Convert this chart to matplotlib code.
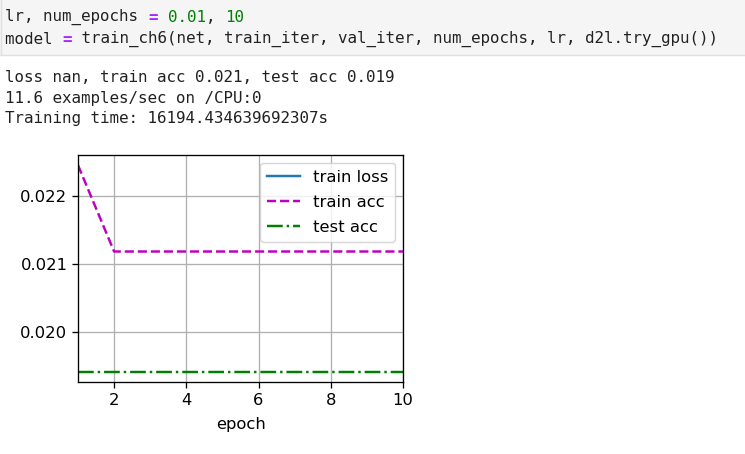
import numpy as np
import matplotlib
matplotlib.use("Agg")
import matplotlib.pyplot as plt
from matplotlib.patches import Rectangle

# values
epochs = [1, 2, 3, 4, 5, 6, 7, 8, 9, 10]
train_loss = [np.nan] * 10
train_acc = [0.02245, 0.02118, 0.02118, 0.02118, 0.02118, 0.02118, 0.02118, 0.02118, 0.02118, 0.02118]
test_acc = [0.01941] * 10
legend_labels = ["train loss", "train acc", "test acc"]

# notebook cell text: (segment, colour, bold)
code_lines = [
    [("lr, num_epochs ", "#212121", False), ("=", "#aa22ff", True), (" ", "#212121", False),
     ("0.01", "#008000", False), (", ", "#212121", False), ("10", "#008000", False)],
    [("model ", "#212121", False), ("=", "#aa22ff", True),
     (" train_ch6(net, train_iter, val_iter, num_epochs, lr, d2l.try_gpu())", "#212121", False)],
]
output_lines = [
    "loss nan, train acc 0.021, test acc 0.019",
    "11.6 examples/sec on /CPU:0",
    "Training time: 16194.434639692307s",
]

# the chart in the screenshot is drawn a bit bigger than 100 dpi
k = 1.18
plt.rcParams.update({
    "font.size": 10 * k,
    "lines.linewidth": 1.5 * k,
    "axes.linewidth": 0.8 * k,
    "grid.linewidth": 0.8 * k,
    "xtick.major.size": 3.5 * k,
    "ytick.major.size": 3.5 * k,
    "xtick.major.width": 0.8 * k,
    "ytick.major.width": 0.8 * k,
})

W, H, DPI = 745, 454, 100
fig = plt.figure(figsize=(W / DPI, H / DPI), dpi=DPI)

def px(x, y):
    return x / W, 1 - y / H

# code cell background
fig.patches.append(Rectangle(px(0, 55), 1.0, 55 / H, transform=fig.transFigure,
                             facecolor="#f5f5f5", edgecolor="none", zorder=0))
fig.add_artist(plt.Line2D([0, 1], [1 - 55 / H] * 2, transform=fig.transFigure,
                          color="#e0e0e0", lw=1))
fig.add_artist(plt.Line2D([0.5 / W] * 2, [1 - 55 / H, 1], transform=fig.transFigure,
                          color="#e0e0e0", lw=1))

mono = "DejaVu Sans Mono"
fsize = 11.45
char_w = 0.602 * fsize * DPI / 72

for row, segs in enumerate(code_lines):
    y = 17 + row * 22
    n = 0
    for s, c, b in segs:
        fig.text(*px(5 + n * char_w, y), s, family=mono, fontsize=fsize, color=c,
                 fontweight="bold" if b else "normal", va="center", ha="left")
        n += len(s)

for row, s in enumerate(output_lines):
    fig.text(*px(5, 77 + row * 21), s, family=mono, fontsize=fsize, color="#212121",
             va="center", ha="left")

# the plot itself
ax = fig.add_axes([78 / W, 1 - 382 / H, 325 / W, 227 / H])
ax.plot(epochs, train_loss, "-", label=legend_labels[0])
ax.plot(epochs, train_acc, "m--", label=legend_labels[1])
ax.plot(epochs, test_acc, "g-.", label=legend_labels[2])
ax.set_xlim(1, 10)
ax.set_ylim(0.01926, 0.02260)
ax.set_xticks([2, 4, 6, 8, 10])
ax.set_yticks([0.020, 0.021, 0.022])
ax.set_xlabel("epoch", labelpad=6.5)
ax.grid(True)
ax.legend(loc="upper right", labelspacing=0.62)

fig.savefig("out.png", dpi=DPI)
